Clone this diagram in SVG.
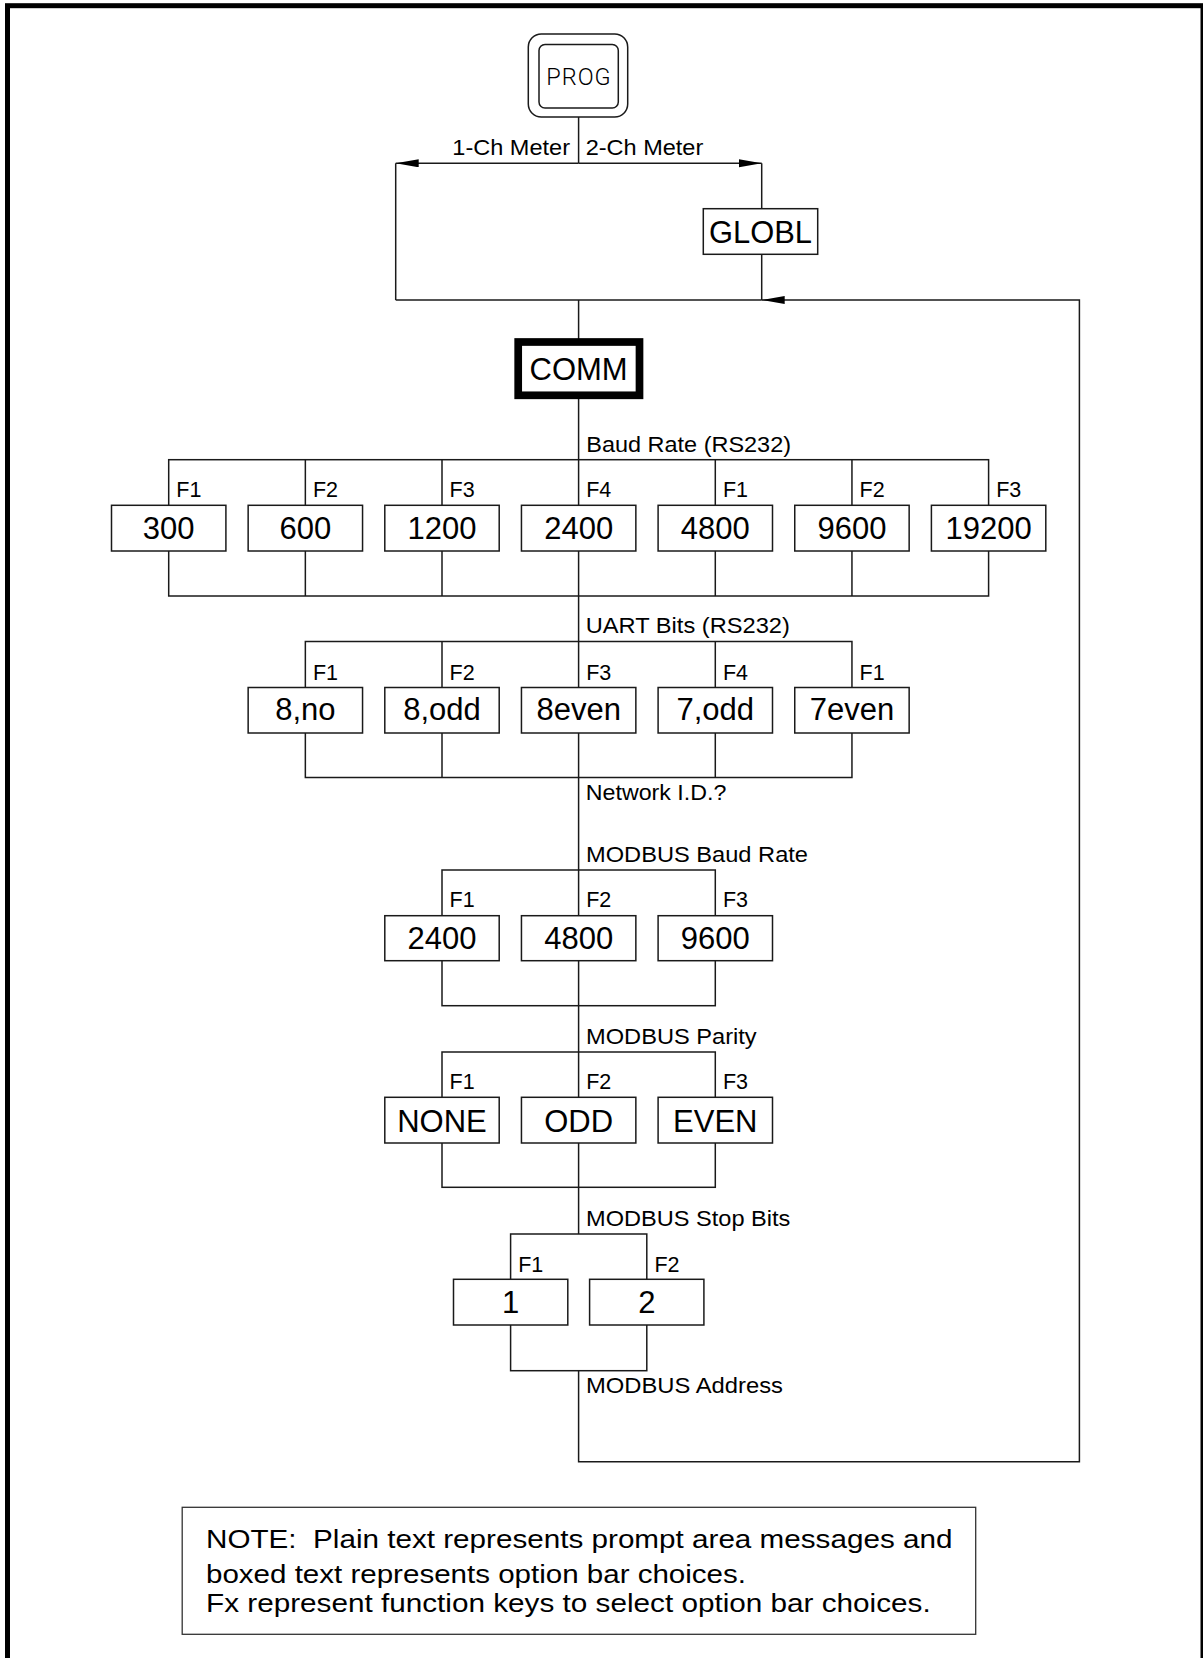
<svg xmlns="http://www.w3.org/2000/svg" width="1203" height="1658" viewBox="0 0 1203 1658">
<style>
.ln{fill:none;stroke:#1a1a1a;stroke-width:1.5}
.bx{fill:#fff;stroke:#1a1a1a;stroke-width:1.5}
.bt{font-family:"Liberation Sans",Arial,sans-serif;font-size:31px;fill:#000;text-anchor:middle}
.fk{font-family:"Liberation Sans",Arial,sans-serif;font-size:21.5px;fill:#000}
.pr{font-family:"Liberation Sans",Arial,sans-serif;font-size:22px;fill:#000}
.nt{font-family:"Liberation Sans",Arial,sans-serif;font-size:25.5px;fill:#000}
</style>
<defs>
<marker id="ah" markerWidth="24" markerHeight="10" refX="23" refY="4" orient="auto" markerUnits="userSpaceOnUse">
<polygon points="0,0 23,4 0,8" fill="#000"/>
</marker>
</defs>
<rect x="0" y="0" width="1203" height="1658" fill="#fff"/>
<rect id="frame" x="7.5" y="5.7" width="1195.5" height="1700" fill="none" stroke="#000" stroke-width="5"/>

<g id="connectors">
<line class="ln" x1="578.6" y1="117" x2="578.6" y2="163.3"/>
<line class="ln" x1="578.6" y1="163.3" x2="395.7" y2="163.3" marker-end="url(#ah)"/>
<line class="ln" x1="578.6" y1="163.3" x2="761.7" y2="163.3" marker-end="url(#ah)"/>
<line class="ln" x1="395.7" y1="163.3" x2="395.7" y2="300"/>
<line class="ln" x1="761.7" y1="163.3" x2="761.7" y2="300"/>
<line class="ln" x1="395.7" y1="300" x2="761.7" y2="300"/>
<path class="ln" d="M578.6,1370.7 V1461.7 H1079.4 V300 H761.7" marker-end="url(#ah)"/>
<line class="ln" x1="578.6" y1="300" x2="578.6" y2="1234"/>
<!-- Baud rate row -->
<rect class="ln" x="168.7" y="459.7" width="819.9" height="136.3"/>
<path class="ln" d="M305.35,459.7V596 M442,459.7V596 M715.3,459.7V596 M851.95,459.7V596"/>
<!-- UART row -->
<rect class="ln" x="305.35" y="641.5" width="546.6" height="136"/>
<path class="ln" d="M442,641.5V777.5 M715.3,641.5V777.5"/>
<!-- MODBUS baud row -->
<rect class="ln" x="442" y="870" width="273.3" height="135.7"/>
<!-- Parity row -->
<rect class="ln" x="442" y="1052" width="273.3" height="135.3"/>
<!-- Stop bits row -->
<rect class="ln" x="510.6" y="1234" width="136.2" height="136.7"/>
</g>

<g id="prog">
<rect x="528.3" y="34" width="99.4" height="83" rx="13" fill="#fff" stroke="#1a1a1a" stroke-width="1.5"/>
<rect x="539" y="44.5" width="79.3" height="63.5" rx="6" fill="#fff" stroke="#1a1a1a" stroke-width="1.5"/>
<text x="579" y="85" font-family="Roboto,'Liberation Sans',sans-serif" font-weight="300" font-size="23.5" text-anchor="middle" letter-spacing="1">PROG</text>
</g>
<g id="lbl-meter">
<text class="pr" x="570" y="155.3" text-anchor="end" textLength="117.7" lengthAdjust="spacingAndGlyphs">1-Ch Meter</text>
<text class="pr" x="585.7" y="155.3" textLength="117.6" lengthAdjust="spacingAndGlyphs">2-Ch Meter</text>
</g>
<g id="globl">
<rect class="bx" x="703.3" y="208.7" width="114.4" height="45.6"/>
<text class="bt" x="760.5" y="242.7" font-size="29.5" textLength="103" lengthAdjust="spacingAndGlyphs">GLOBL</text>
</g>
<g id="comm">
<rect x="518.2" y="342" width="121.3" height="53.3" fill="#fff" stroke="#000" stroke-width="7.7"/>
<text class="bt" x="578.6" y="380" font-size="32">COMM</text>
</g>

<g id="prompt-baud"><text class="pr" x="586.3" y="451.7" textLength="204.7" lengthAdjust="spacingAndGlyphs">Baud Rate (RS232)</text></g>
<g id="baud-300"><text class="fk" x="176.3" y="497.3">F1</text><rect class="bx" x="111.5" y="505.3" width="114.4" height="45.7"/><text class="bt" x="168.7" y="539">300</text></g>
<g id="baud-600"><text class="fk" x="312.9" y="497.3">F2</text><rect class="bx" x="248.15" y="505.3" width="114.4" height="45.7"/><text class="bt" x="305.35" y="539">600</text></g>
<g id="baud-1200"><text class="fk" x="449.6" y="497.3">F3</text><rect class="bx" x="384.8" y="505.3" width="114.4" height="45.7"/><text class="bt" x="442" y="539">1200</text></g>
<g id="baud-2400"><text class="fk" x="586.2" y="497.3">F4</text><rect class="bx" x="521.45" y="505.3" width="114.4" height="45.7"/><text class="bt" x="578.65" y="539">2400</text></g>
<g id="baud-4800"><text class="fk" x="722.9" y="497.3">F1</text><rect class="bx" x="658.1" y="505.3" width="114.4" height="45.7"/><text class="bt" x="715.3" y="539">4800</text></g>
<g id="baud-9600"><text class="fk" x="859.5" y="497.3">F2</text><rect class="bx" x="794.75" y="505.3" width="114.4" height="45.7"/><text class="bt" x="851.95" y="539">9600</text></g>
<g id="baud-19200"><text class="fk" x="996.2" y="497.3">F3</text><rect class="bx" x="931.4" y="505.3" width="114.4" height="45.7"/><text class="bt" x="988.6" y="539">19200</text></g>

<g id="prompt-uart"><text class="pr" x="585.8" y="633.3" textLength="204" lengthAdjust="spacingAndGlyphs">UART Bits (RS232)</text></g>
<g id="uart-8no"><text class="fk" x="312.9" y="680">F1</text><rect class="bx" x="248.15" y="687.5" width="114.4" height="45.5"/><text class="bt" x="305.35" y="720">8,no</text></g>
<g id="uart-8odd"><text class="fk" x="449.6" y="680">F2</text><rect class="bx" x="384.8" y="687.5" width="114.4" height="45.5"/><text class="bt" x="442" y="720">8,odd</text></g>
<g id="uart-8even"><text class="fk" x="586.2" y="680">F3</text><rect class="bx" x="521.45" y="687.5" width="114.4" height="45.5"/><text class="bt" x="578.65" y="720">8even</text></g>
<g id="uart-7odd"><text class="fk" x="722.9" y="680">F4</text><rect class="bx" x="658.1" y="687.5" width="114.4" height="45.5"/><text class="bt" x="715.3" y="720">7,odd</text></g>
<g id="uart-7even"><text class="fk" x="859.5" y="680">F1</text><rect class="bx" x="794.75" y="687.5" width="114.4" height="45.5"/><text class="bt" x="851.95" y="720">7even</text></g>

<g id="prompt-netid"><text class="pr" x="585.8" y="800" textLength="140.6" lengthAdjust="spacingAndGlyphs">Network I.D.?</text></g>

<g id="prompt-mbaud"><text class="pr" x="586" y="861.7" textLength="222" lengthAdjust="spacingAndGlyphs">MODBUS Baud Rate</text></g>
<g id="mbaud-2400"><text class="fk" x="449.6" y="907.3">F1</text><rect class="bx" x="384.8" y="915.7" width="114.4" height="45"/><text class="bt" x="442" y="949">2400</text></g>
<g id="mbaud-4800"><text class="fk" x="586.2" y="907.3">F2</text><rect class="bx" x="521.45" y="915.7" width="114.4" height="45"/><text class="bt" x="578.65" y="949">4800</text></g>
<g id="mbaud-9600"><text class="fk" x="722.9" y="907.3">F3</text><rect class="bx" x="658.1" y="915.7" width="114.4" height="45"/><text class="bt" x="715.3" y="949">9600</text></g>

<g id="prompt-parity"><text class="pr" x="586" y="1044" textLength="170.7" lengthAdjust="spacingAndGlyphs">MODBUS Parity</text></g>
<g id="parity-none"><text class="fk" x="449.6" y="1089.3">F1</text><rect class="bx" x="384.8" y="1097.3" width="114.4" height="45.7"/><text class="bt" x="442" y="1131.7">NONE</text></g>
<g id="parity-odd"><text class="fk" x="586.2" y="1089.3">F2</text><rect class="bx" x="521.45" y="1097.3" width="114.4" height="45.7"/><text class="bt" x="578.65" y="1131.7">ODD</text></g>
<g id="parity-even"><text class="fk" x="722.9" y="1089.3">F3</text><rect class="bx" x="658.1" y="1097.3" width="114.4" height="45.7"/><text class="bt" x="715.3" y="1131.7">EVEN</text></g>

<g id="prompt-stop"><text class="pr" x="586" y="1225.7" textLength="204.4" lengthAdjust="spacingAndGlyphs">MODBUS Stop Bits</text></g>
<g id="stop-1"><text class="fk" x="518.2" y="1271.7">F1</text><rect class="bx" x="453.5" y="1279.3" width="114.3" height="45.7"/><text class="bt" x="510.6" y="1313.3">1</text></g>
<g id="stop-2"><text class="fk" x="654.4" y="1271.7">F2</text><rect class="bx" x="589.6" y="1279.3" width="114.3" height="45.7"/><text class="bt" x="646.8" y="1313.3">2</text></g>

<g id="prompt-address"><text class="pr" x="586" y="1392.7" textLength="197" lengthAdjust="spacingAndGlyphs">MODBUS Address</text></g>

<g id="note">
<rect x="182.2" y="1507.3" width="793.5" height="127" fill="#fff" stroke="#333" stroke-width="1.3"/>
<text class="nt" x="206" y="1548.3" textLength="746.4" lengthAdjust="spacingAndGlyphs" xml:space="preserve">NOTE:  Plain text represents prompt area messages and</text>
<text class="nt" x="206" y="1583.3" textLength="540" lengthAdjust="spacingAndGlyphs">boxed text represents option bar choices.</text>
<text class="nt" x="206" y="1611.7" textLength="724.7" lengthAdjust="spacingAndGlyphs">Fx represent function keys to select option bar choices.</text>
</g>
</svg>
